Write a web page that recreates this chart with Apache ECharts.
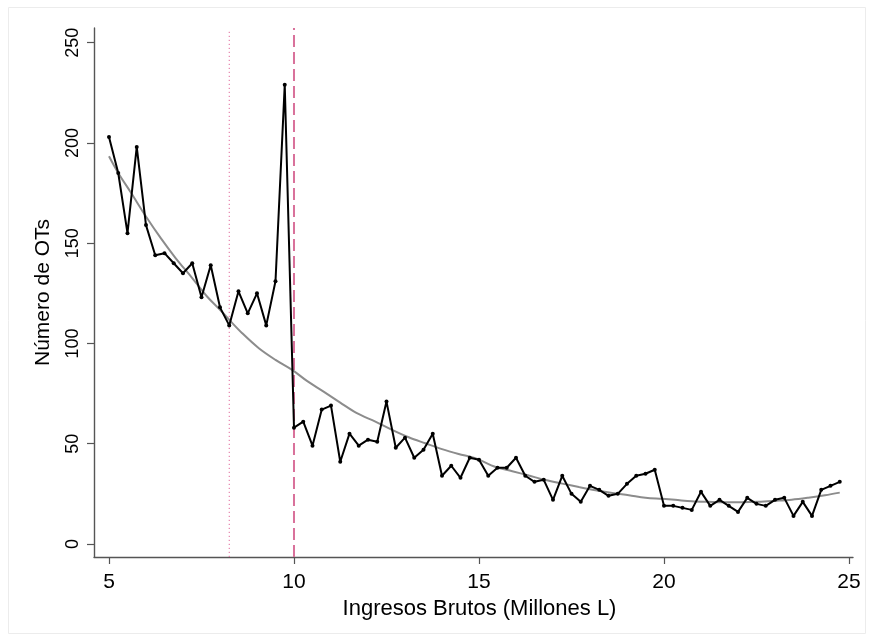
<!DOCTYPE html>
<html>
<head>
<meta charset="utf-8">
<script src="https://cdn.jsdelivr.net/npm/echarts@6/dist/echarts.min.js"></script>
<style>
html,body{margin:0;padding:0;background:#fff;}
#chart{width:872px;height:640px;}
</style>
</head>
<body>
<div id="chart"></div>
<script>
// Bin centres (Millones L) and counts
const binX = [
  5, 5.25, 5.5, 5.75, 6, 6.25, 6.5, 6.75, 7, 7.25,
  7.5, 7.75, 8, 8.25, 8.5, 8.75, 9, 9.25, 9.5, 9.75,
  10, 10.25, 10.5, 10.75, 11, 11.25, 11.5, 11.75, 12, 12.25,
  12.5, 12.75, 13, 13.25, 13.5, 13.75, 14, 14.25, 14.5, 14.75,
  15, 15.25, 15.5, 15.75, 16, 16.25, 16.5, 16.75, 17, 17.25,
  17.5, 17.75, 18, 18.25, 18.5, 18.75, 19, 19.25, 19.5, 19.75,
  20, 20.25, 20.5, 20.75, 21, 21.25, 21.5, 21.75, 22, 22.25,
  22.5, 22.75, 23, 23.25, 23.5, 23.75, 24, 24.25, 24.5, 24.75
];
const counts = [
  203, 185, 155, 198, 159, 144, 145, 140, 135, 140,
  123, 139, 118, 109, 126, 115, 125, 109, 131, 229,
  58, 61, 49, 67, 69, 41, 55, 49, 52, 51,
  71, 48, 53, 43, 47, 55, 34, 39, 33, 43,
  42, 34, 38, 38, 43, 34, 31, 32, 22, 34,
  25, 21, 29, 27, 24, 25, 30, 34, 35, 37,
  19, 19, 18, 17, 26, 19, 22, 19, 16, 23,
  20, 19, 22, 23, 14, 21, 14, 27, 29, 31
];
// Smoothed fit
const fitX = [5, 5.25, 5.6, 6.0, 6.4, 6.8, 7.25, 7.65, 8.0, 8.25, 8.6, 9.05, 9.5, 9.95, 10.35, 10.8, 11.25, 11.7, 12.2, 12.65, 13.1, 13.55, 14.0, 14.45, 14.9, 15.45, 15.9, 16.35, 16.8, 17.25, 17.7, 18.15, 18.6, 19.05, 19.5, 19.95, 20.3, 20.75, 21.2, 21.65, 22.1, 22.55, 23.0, 23.45, 23.9, 24.35, 24.75];
const fitY = [193.3, 185.0, 175.0, 163.3, 152.5, 142.6, 132.6, 123.4, 116.8, 111.8, 105.1, 97.6, 91.8, 86.8, 81.3, 76.0, 70.5, 65.2, 61.0, 56.9, 53.2, 50.2, 47.3, 44.9, 42.8, 38.4, 36.3, 34.1, 31.9, 30.1, 28.4, 26.8, 25.4, 24.3, 23.1, 22.5, 22.0, 21.3, 21.0, 20.8, 20.8, 21.0, 21.5, 22.1, 23.1, 24.3, 25.6];
const xTicks = [5, 10, 15, 20, 25];
const yTicks = [0, 50, 100, 150, 200, 250];
const dottedLineX = 8.25;
const dashedLineX = 10;

const FONT = 'Liberation Sans, Arial, Helvetica, sans-serif';
const chart = echarts.init(document.getElementById('chart'), null, {renderer: 'canvas'});
const yMin = -6.5, yMax = 257.3;

chart.setOption({
  animation: false,
  backgroundColor: '#ffffff',
  graphic: [{
    type: 'rect', shape: {x: 8.5, y: 7.5, width: 857, height: 626},
    style: {fill: 'none', stroke: '#ececec', lineWidth: 1}, silent: true, z: -1
  }],
  grid: {left: 94, right: 19, top: 28, bottom: 83, containLabel: false},
  xAxis: {
    type: 'value', min: 4.595, max: 25.108,
    name: 'Ingresos Brutos (Millones L)', nameLocation: 'middle', nameGap: 41,
    nameTextStyle: {fontFamily: FONT, fontSize: 22, color: '#000', padding: [0, 0, 0, 12]},
    axisLine: {show: true, onZero: false, lineStyle: {color: '#555', width: 1.4}},
    axisTick: {show: true, length: 7, customValues: xTicks, lineStyle: {color: '#555', width: 1.2}},
    axisLabel: {customValues: xTicks, margin: 15, fontFamily: FONT, fontSize: 21, color: '#000'},
    splitLine: {show: false}
  },
  yAxis: {
    type: 'value', min: yMin, max: yMax,
    name: 'Número de OTs', nameLocation: 'middle', nameGap: 40, nameRotate: 90,
    nameTextStyle: {fontFamily: FONT, fontSize: 21, color: '#000'},
    axisLine: {show: true, onZero: false, lineStyle: {color: '#555', width: 1.4}},
    axisTick: {show: true, length: 7, customValues: yTicks, lineStyle: {color: '#555', width: 1.2}},
    axisLabel: {customValues: yTicks, rotate: 90, margin: 12, fontFamily: FONT, fontSize: 18, color: '#000'},
    splitLine: {show: false}
  },
  series: [
    {
      type: 'line', name: 'dotted',
      data: [[dottedLineX, yMin], [dottedLineX, yMax - 1]],
      showSymbol: false, symbol: 'none',
      lineStyle: {color: '#e0679a', width: 1, type: [1.2, 2.8]},
      z: 1
    },
    {
      type: 'line', name: 'dashed',
      data: [[dashedLineX, yMin], [dashedLineX, yMax]],
      showSymbol: false, symbol: 'none',
      lineStyle: {color: '#d9719b', width: 2, type: [12, 5]},
      z: 1
    },
    {
      type: 'line', name: 'fit',
      data: fitX.map((x, i) => [x, fitY[i]]),
      showSymbol: false, smooth: 0.35,
      lineStyle: {color: '#8c8c8c', width: 2},
      z: 2
    },
    {
      type: 'line', name: 'counts',
      data: binX.map((x, i) => [x, counts[i]]),
      symbol: 'circle', symbolSize: 4,
      itemStyle: {color: '#000'},
      lineStyle: {color: '#000', width: 2},
      z: 3
    }
  ]
});
</script>
</body>
</html>
